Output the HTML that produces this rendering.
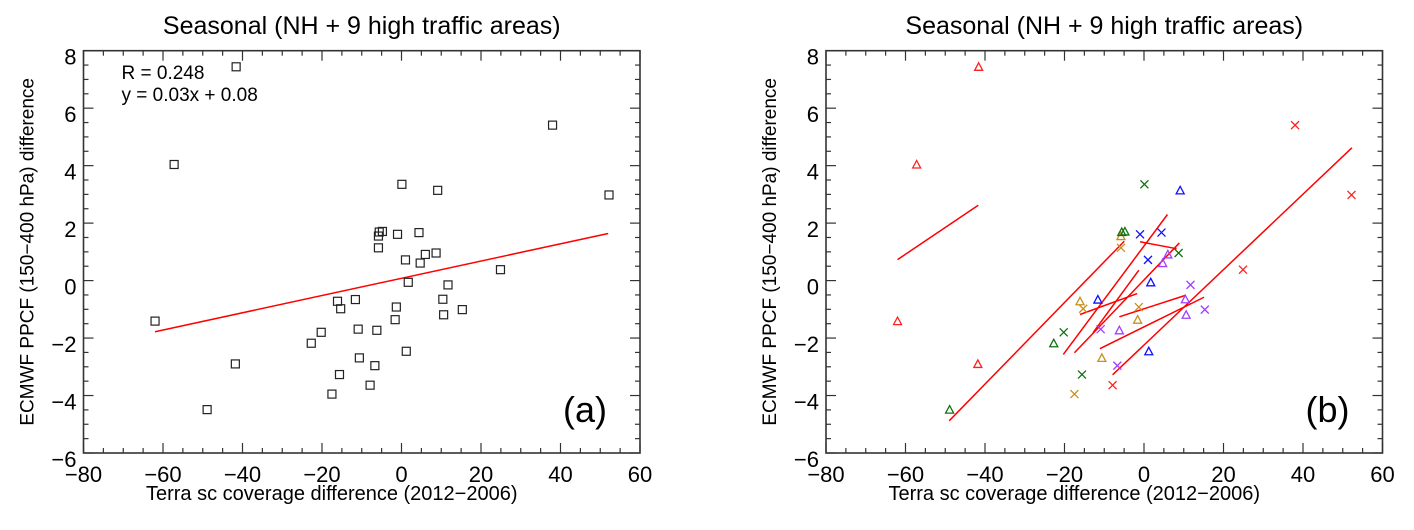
<!DOCTYPE html>
<html><head><meta charset="utf-8"><style>
body{margin:0;background:#fff;}
svg{display:block;font-family:"Liberation Sans",Arial,sans-serif;}
</style></head><body>
<svg id="chart" width="1414" height="530" viewBox="0 0 1414 530" xmlns="http://www.w3.org/2000/svg"></svg>
<script>
// data
const ptX = [-62,-57.2,-41.6,-41.8,-48.9,-22.7,-20.2,-17.5,-16.1,-15.3,-15.6,-11.6,-10.9,-10.6,-7.9,-6.7,-6.2,-5.8,-5.8,-5.6,-4.8,-1.0,-1.3,-1.6,0.1,1.0,1.2,1.7,4.4,4.7,6.0,8.7,9.1,10.4,10.6,11.7,15.3,24.9,38.0,52.2];
const ptY = [-1.41,4.04,7.44,-2.9,-4.49,-2.18,-1.8,-3.95,-0.72,-0.98,-3.27,-0.66,-1.69,-2.69,-3.64,-2.96,-1.73,1.14,1.55,1.69,1.71,1.61,-0.92,-1.36,3.35,0.72,-2.46,-0.06,1.67,0.61,0.91,0.96,3.14,-0.65,-1.19,-0.15,-1.01,0.38,5.41,2.98];
const ptGroup = ['r','r','r','r','g','g','g','o','o','o','g','b','p','o','r','p','p','o','o','g','g','b','o','o','g','b','b','b','b','p','p','g','b','p','p','p','p','r','r','r'];
const ptSym = ['t','t','t','t','t','t','x','x','t','x','x','t','x','t','x','x','t','x','t','t','t','x','x','t','x','x','t','t','x','t','t','x','t','t','t','x','x','x','x','x'];
const fitSlope = 0.03, fitIntercept = 0.08, fitX0 = -62, fitX1 = 52;
const segX1 = [-62.0,-49.0,-20.3,-17.5,-16.1,-11.1,-6.2,-7.9,-1.0,-12.8];
const segY1 = [0.73,-4.88,-2.57,-2.51,-1.18,-2.37,-1.26,-3.28,1.35,-1.81];
const segX2 = [-41.7,-4.96,5.9,8.9,-1.7,15.1,10.5,52.3,8.2,-1.3];
const segY2 = [2.62,1.37,2.3,1.31,-0.45,-0.58,-0.51,4.62,1.11,0.36];
const xTicks = [-80,-60,-40,-20,0,20,40,60];
const yTicks = [-6,-4,-2,0,2,4,6,8];
const colors = {r:'#ff2020',g:'#107010',o:'#c89020',b:'#1010ff',p:'#a040ff'};

const NS='http://www.w3.org/2000/svg';
const svg=document.getElementById('chart');
function mk(tag,attrs,parent,text){const e=document.createElementNS(NS,tag);for(const k in attrs)e.setAttribute(k,attrs[k]);if(text!==undefined)e.textContent=text;(parent||svg).appendChild(e);return e;}

function panel(L,label,colored,id){
  const R=L+556.5,T=50.7,B=453;
  const sx=v=>L+(v+80)/140*(R-L);
  const sy=v=>B-(v+6)/14*(B-T);
  const g=mk('g',{});
  
  
  const cx=(L+R)/2;
  const t=mk('text',{x:cx,y:34,'font-size':25,'text-anchor':'middle'},g,'Seasonal (NH + 9 high traffic areas)');
  
  
  for(let v=-80;v<=60;v+=5){const maj=v%20===0;const len=maj?10:5;const x=sx(v);
    mk('line',{x1:x,y1:B,x2:x,y2:B-len,stroke:'#333','stroke-width':1.2},g);
    mk('line',{x1:x,y1:T,x2:x,y2:T+len,stroke:'#333','stroke-width':1.2},g);}
  for(let v=-6;v<=8.001;v+=0.5){const maj=Math.abs(v%2)<1e-6;const len=maj?10:5;const y=sy(v);
    mk('line',{x1:L,y1:y,x2:L+len,y2:y,stroke:'#333','stroke-width':1.2},g);
    mk('line',{x1:R,y1:y,x2:R-len,y2:y,stroke:'#333','stroke-width':1.2},g);}
  const box=mk('rect',{x:L,y:T,width:R-L,height:B-T,fill:'none',stroke:'#333','stroke-width':1.6},g);
  
  
  xTicks.forEach(v=>{const e=mk('text',{x:sx(v),y:482,'font-size':22,'text-anchor':'middle'},g,String(v).replace('-','\u2212'));
    
    });
  yTicks.forEach(v=>{const e=mk('text',{x:L-7,y:sy(v)+14,'font-size':22,'text-anchor':'end'},g,String(v).replace('-','\u2212'));
    
    });
  const xt=mk('text',{x:cx-30,y:500,'font-size':20,'text-anchor':'middle'},g,'Terra sc coverage difference (2012\u22122006)');
  
  
  const yt=mk('text',{x:0,y:0,'font-size':19,'text-anchor':'middle',transform:`translate(${L-50},${(T+B)/2}) rotate(-90)`},g,'ECMWF PPCF (150\u2212400 hPa) difference');
  
  
  const pl=mk('text',{x:R-55,y:422,'font-size':36,'text-anchor':'middle'},g,label);
  
  
  if(!colored){
    const fl=mk('line',{x1:sx(fitX0),y1:sy(fitSlope*fitX0+fitIntercept),x2:sx(fitX1),y2:sy(fitSlope*fitX1+fitIntercept),stroke:'#ff0000','stroke-width':1.5},g);
    
    
    const a=mk('text',{x:L+38,y:79,'font-size':19},g,'R = 0.248');
    
    
    const b=mk('text',{x:L+38,y:101,'font-size':19},g,'y = 0.03x + 0.08');
    
    
    ptX.forEach((v,i)=>{const x=sx(v),y=sy(ptY[i]);
      const r=mk('rect',{x:x-4,y:y-4,width:8,height:8,fill:'none',stroke:'#222','stroke-width':1.2},g);
      
      });
  } else {
    segX1.forEach((v,i)=>{
      const s=mk('line',{x1:sx(v),y1:sy(segY1[i]),x2:sx(segX2[i]),y2:sy(segY2[i]),stroke:'#ff0000','stroke-width':1.5},g);
      
      });
    ptX.forEach((v,i)=>{const x=sx(v),y=sy(ptY[i]);const c=colors[ptGroup[i]];let e;
      if(ptSym[i]==='t'){e=mk('path',{d:`M${x-4},${y+3.5}L${x},${y-4}L${x+4},${y+3.5}Z`,fill:'none',stroke:c,'stroke-width':1.3},g);}
      else{e=mk('path',{d:`M${x-4},${y-4}L${x+4},${y+4}M${x-4},${y+4}L${x+4},${y-4}`,fill:'none',stroke:c,'stroke-width':1.3},g);}
      
      });
  }
}
panel(83.5,'(a)',false,'left');
panel(826,'(b)',true,'right');
</script>
</body></html>
